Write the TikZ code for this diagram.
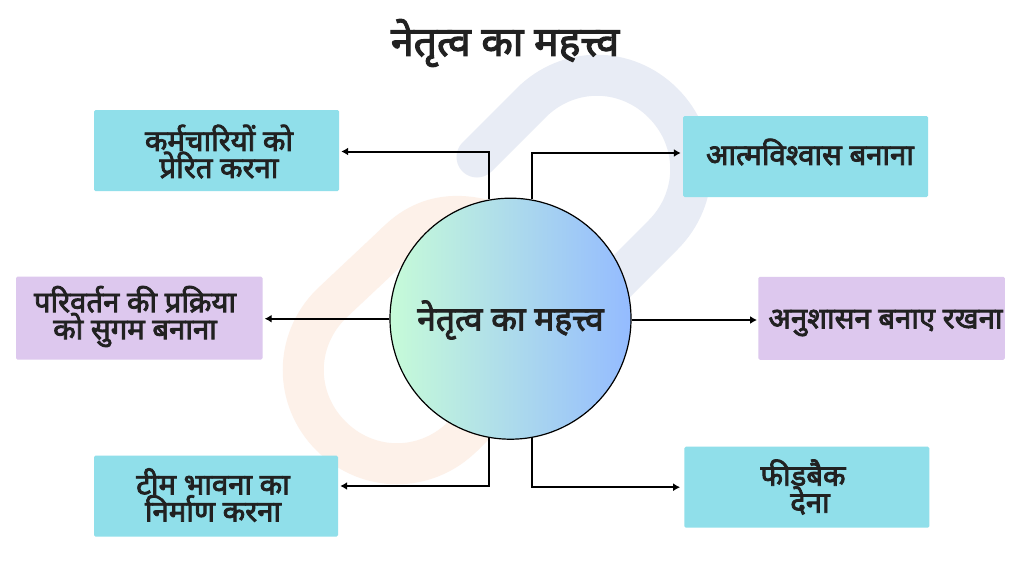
\documentclass[tikz,border=0pt]{standalone}
\usepackage{fontspec}
\newfontfamily\hi[Script=Devanagari,FakeBold=2.8]{Noto Sans}
\usetikzlibrary{arrows.meta,shapes.geometric}
\definecolor{txt}{HTML}{212121}
\definecolor{cy}{HTML}{90DFEA}
\definecolor{pu}{HTML}{DDC8EE}
\definecolor{lb}{HTML}{E8ECF5}
\definecolor{lo}{HTML}{FDF1E9}
\definecolor{gl}{HTML}{C6FBD8}
\definecolor{gr}{HTML}{94BBFF}
\tikzset{
 x=1pt,y=-1pt,
 boxcy/.style={fill=cy,rounded corners=1.5pt,inner sep=0pt,minimum width=245pt,minimum height=81pt},
 boxpu/.style={fill=pu,rounded corners=1.5pt,inner sep=0pt,minimum width=246.5pt,minimum height=83pt},
 lab/.style={font=\hi\fontsize{29.3}{27}\selectfont,text=txt,align=center,inner sep=0pt},
 conn/.style={draw=black,line width=2pt,-{Latex[length=7pt,width=8pt]},shorten >=2pt},
 linkb/.style={line width=41pt,line cap=round,draw=lb},
 linko/.style={line width=41pt,line cap=round,draw=lo},
}
\begin{document}
\begin{tikzpicture}
\useasboundingbox (0,0) rectangle (1024,560);
\fill[white] (0,0) rectangle (1024,560);
% chain link
\draw[linkb] (477,157) -- (531,103) .. controls (568,66) and (626,66) .. (663,103) .. controls (700,140) and (700,198) .. (663,235) -- (600,298);
\draw[linko] (463,436) -- (520,379);
\draw[linko] (397,242) -- (331,304) .. controls (294,341) and (294,399) .. (331,436) .. controls (368,473) and (426,473) .. (463,436);
\draw[linko] (397,242) .. controls (425,214) and (460,210) .. (500,225);
% boxes
\node[boxcy] (b1) at (216.5,150.5) {};
\node[boxcy] (b2) at (805.5,156.5) {};
\node[boxpu] (b3) at (139.25,318) {};
\node[boxpu] (b4) at (881.5,318.25) {};
\node[boxcy] (b5) at (806.8,487.2) {};
\node[boxcy,minimum width=244pt] (b6) at (216,496) {};
% hub
\node[circle,minimum size=241pt,inner sep=0pt,draw=black,line width=1.2pt,left color=gl,right color=gr] (hub) at (510.5,318.7) {};
% connectors
\draw[conn] (hub.100) |- ([yshift=-1pt]b1.east);
\draw[conn] (hub.80) |- ([yshift=3.5pt]b2.west);
\draw[conn] (hub.west) -- (hub.west -| b3.east);
\draw[conn,shorten >=1pt] ([yshift=-1.3pt]hub.east) -- ([yshift=-1.3pt]hub.east -| b4.west);
\draw[conn] (hub.-100) |- ([yshift=10pt]b6.east);
\draw[conn,shorten >=4pt] (hub.-80) |- (b5.west);
% text
\node[lab,font=\hi\fontsize{41}{44}\selectfont] (title) at (505,43) {नेतृत्व का महत्त्व};
\node[lab,font=\hi\fontsize{33.5}{36}\selectfont] (hubt) at (510.5,320) {नेतृत्व का महत्त्व};
\node[lab] (t1) at (219,151.5) {कर्मचारियों को\\प्रेरित करना};
\node[lab] (t2) at (810,152) {आत्मविश्वास बनाना};
\node[lab] (t3) at (135,316.5) {परिवर्तन की प्रक्रिया\\को सुगम बनाना};
\node[lab] (t4) at (885.5,323) {अनुशासन बनाए रखना};
\node[lab] (t5) at (803,487) {फीडबैक\\\hspace*{14pt}देना};
\node[lab] (t6) at (213,495) {टीम भावना का\\निर्माण करना};
\end{tikzpicture}
\end{document}
